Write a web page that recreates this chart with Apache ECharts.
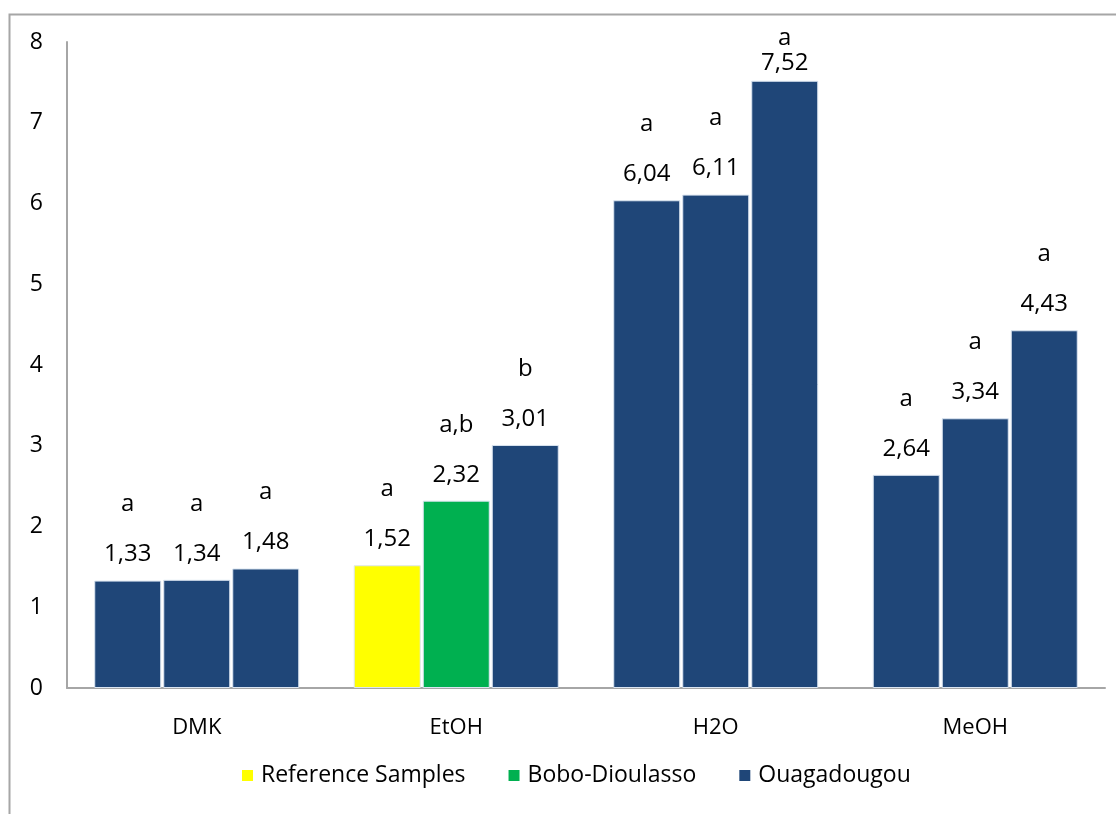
<!DOCTYPE html>
<html>
<head>
<meta charset="utf-8">
<script src="https://cdn.jsdelivr.net/npm/echarts@6/dist/echarts.min.js"></script>
<style>html,body{margin:0;padding:0;background:#fff;}#chart{width:1116px;height:814px;}</style>
</head>
<body>
<div id="chart"></div>
<script>
var categories = ['DMK', 'EtOH', 'H2O', 'MeOH'];
var seriesNames = ['Reference Samples', 'Bobo-Dioulasso', 'Ouagadougou'];
var refValues = [1.33, 1.52, 6.04, 2.64];
var boboValues = [1.34, 2.32, 6.11, 3.34];
var ouagaValues = [1.48, 3.01, 7.52, 4.43];
var refLetters = ['a', 'a', 'a', 'a'];
var boboLetters = ['a', 'a,b', 'a', 'a'];
var ouagaLetters = ['a', 'b', 'a', 'a'];
var yTicks = [0, 1, 2, 3, 4, 5, 6, 7, 8];

var YELLOW = '#FFFF00', GREEN = '#00B050', BLUE = '#1F4678';
var FONT = 'Open Sans';
var seriesColors = [YELLOW, GREEN, BLUE];

function richStyle(letterLineHeight) {
  return {
    l: { fontFamily: FONT, fontSize: 24, color: '#000', lineHeight: letterLineHeight },
    v: { fontFamily: FONT, fontSize: 24, color: '#000', lineHeight: 28 }
  };
}

function buildData(values, letters, sIdx) {
  return values.map(function (v, i) {
    var c = (categories[i] === 'EtOH') ? seriesColors[sIdx] : BLUE;
    var item = { value: v, letter: letters[i], itemStyle: { color: c } };
    if (v > 7) {
      // label squeezed against the top of the plot, as in the original
      item.label = { distance: 4, rich: richStyle(22) };
    }
    return item;
  });
}

function fmt(p) {
  return '{l|' + p.data.letter + '}\n{v|' + p.value.toFixed(2).replace('.', ',') + '}';
}

var vals = [refValues, boboValues, ouagaValues];
var lets = [refLetters, boboLetters, ouagaLetters];

var series = seriesNames.map(function (n, s) {
  return {
    name: n,
    type: 'bar',
    barWidth: 67,
    barGap: '3%',
    itemStyle: { color: seriesColors[s], borderColor: '#dbe5f1', borderWidth: 1 },
    label: {
      show: true,
      position: 'top',
      distance: 12,
      formatter: fmt,
      fontFamily: FONT,
      color: '#000',
      rich: richStyle(72)
    },
    data: buildData(vals[s], lets[s], s)
  };
});

var chart = echarts.init(document.getElementById('chart'));
chart.setOption({
  animation: false,
  backgroundColor: '#fff',
  textStyle: { fontFamily: FONT },
  graphic: [{
    type: 'rect', left: 7, top: 12, silent: true,
    shape: { width: 1300, height: 1000 },
    style: { fill: 'none', stroke: '#a6a6a6', lineWidth: 2 }
  }],
  grid: { left: 67, right: 11, top: 42, bottom: 126, containLabel: false },
  legend: {
    bottom: 22,
    left: 237,
    icon: 'rect',
    itemWidth: 11,
    itemHeight: 11,
    itemGap: 43,
    itemStyle: { borderWidth: 0 },
    textStyle: { fontFamily: FONT, fontSize: 23, color: '#000', padding: [0, 0, 0, 3] },
    data: seriesNames
  },
  xAxis: {
    type: 'category',
    data: categories,
    axisLine: { lineStyle: { color: '#a6a6a6', width: 2 } },
    axisTick: { show: false },
    axisLabel: { fontFamily: FONT, fontSize: 22, color: '#000', margin: 29 }
  },
  yAxis: {
    type: 'value',
    min: yTicks[0],
    max: yTicks[yTicks.length - 1],
    interval: 1,
    axisLine: { show: true, lineStyle: { color: '#a6a6a6', width: 2 } },
    axisTick: { show: false },
    splitLine: { show: false },
    axisLabel: { fontFamily: FONT, fontSize: 23, color: '#000', margin: 24 }
  },
  series: series
});
</script>
</body>
</html>
